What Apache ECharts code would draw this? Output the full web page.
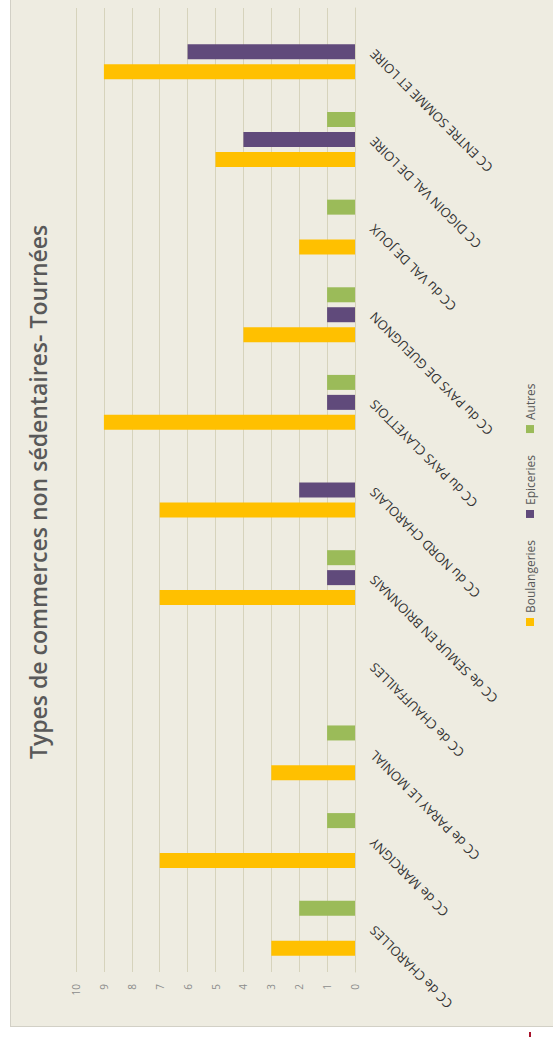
<!DOCTYPE html>
<html>
<head>
<meta charset="utf-8">
<script src="https://cdn.jsdelivr.net/npm/echarts@6/dist/echarts.min.js"></script>
<style>
  html, body { margin: 0; padding: 0; background: #ffffff; width: 553px; height: 1037px; overflow: hidden; position: relative; }
  /* The chart is laid out as a column chart and turned a quarter turn anticlockwise */
  #chart {
    position: absolute;
    left: 10px;
    top: 1027px;
    width: 1050px;
    height: 565px;
    transform-origin: 0 0;
    transform: rotate(-90deg);
    background: #EEECE1;
    box-sizing: border-box;
    border: 1px solid #D2D0C6;
  }
  #mark { position: absolute; left: 529px; top: 1032px; width: 2px; height: 5px; background: #A8142C; }
</style>
</head>
<body>
<div id="chart"></div>
<div id="mark"></div>
<script>
const categories = [
  'CC de CHAROLLES',
  'CC de MARCIGNY',
  'CC de PARAY LE MONIAL',
  'CC de CHAUFFAILLES',
  'CC de SEMUR EN BRIONNAIS',
  'CC du NORD CHAROLAIS',
  'CC du PAYS CLAYETTOIS',
  'CC du PAYS DE GUEUGNON',
  'CC du VAL DE JOUX',
  'CC DIGOIN VAL DE LOIRE',
  'CC ENTRE SOMME ET LOIRE'
];
const seriesNames = ['Boulangeries', 'Epiceries', 'Autres'];
const boulangeries = [3, 7, 3, 0, 7, 7, 9, 4, 2, 5, 9];
const epiceries = [0, 0, 0, 0, 1, 2, 1, 1, 0, 4, 6];
const autres = [2, 1, 1, 0, 1, 0, 1, 1, 1, 1, 0];
const valueTicks = [0, 1, 2, 3, 4, 5, 6, 7, 8, 9, 10];

const colors = ['#FFC000', '#604A7B', '#9BBB59'];
const font = '"Open Sans", Lato, sans-serif';

const chart = echarts.init(document.getElementById('chart'), null, { renderer: 'svg' });

function barSeries(name, data, color) {
  return {
    name: name,
    type: 'bar',
    data: data,
    barWidth: 15,
    barGap: '33%',
    itemStyle: { color: color },
    emphasis: { disabled: true }
  };
}

chart.setOption({
  animation: false,
  backgroundColor: 'transparent',
  title: {
    text: 'Types de commerces non sédentaires- Tournées',
    left: 262,
    top: 10,
    textStyle: { fontFamily: font, fontSize: 23, fontWeight: 600, color: '#595959' }
  },
  legend: {
    data: seriesNames,
    top: 508,
    left: 395,
    itemWidth: 8,
    itemHeight: 8,
    itemGap: 22,
    icon: 'rect',
    textStyle: { fontFamily: font, fontSize: 12, color: '#595959' }
  },
  grid: { left: 54, right: 30, top: 65, bottom: 219, outerBoundsMode: 'none' },
  xAxis: {
    type: 'category',
    data: categories,
    axisLine: { show: true, lineStyle: { color: '#D6D3BC', width: 1 } },
    axisTick: { show: false },
    axisLabel: {
      rotate: 45,
      interval: 0,
      margin: 17,
      fontFamily: font,
      fontSize: 13,
      color: '#333333'
    }
  },
  yAxis: {
    type: 'value',
    min: valueTicks[0],
    max: valueTicks[valueTicks.length - 1],
    interval: 1,
    axisLine: { show: false },
    axisTick: { show: false },
    splitLine: { lineStyle: { color: '#D6D3BC', width: 1 } },
    axisLabel: { margin: 12, fontFamily: font, fontSize: 10, color: '#8C8C8C' }
  },
  series: [
    barSeries(seriesNames[0], boulangeries, colors[0]),
    barSeries(seriesNames[1], epiceries, colors[1]),
    barSeries(seriesNames[2], autres, colors[2])
  ]
});
</script>
</body>
</html>
